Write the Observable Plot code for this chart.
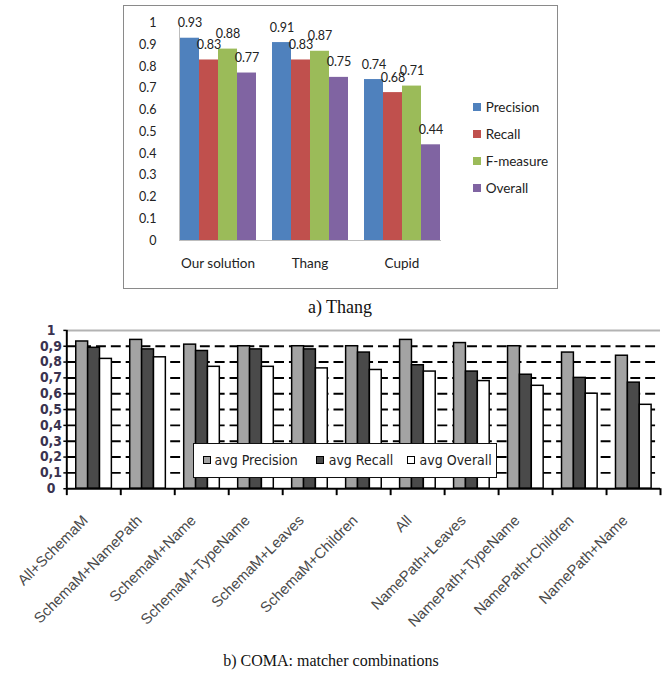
<!DOCTYPE html>
<html>
<head>
<meta charset="utf-8">
<script src="https://cdn.jsdelivr.net/npm/d3@7"></script>
<script src="https://cdn.jsdelivr.net/npm/@observablehq/plot@0.6"></script>
<style>
  html, body { margin: 0; padding: 0; background: #fff; }
  #page { position: relative; width: 663px; height: 675px; overflow: hidden; background: #fff; }
  .abs { position: absolute; }
  .frameA { left: 123px; top: 5px; width: 435px; height: 284px; border: 1px solid #8a8a8a; box-sizing: border-box; pointer-events: none; }
  .legA { font-family: Lato, "Open Sans", sans-serif; font-size: 13.5px; color: #222; }
  .legA .sw { position: absolute; width: 7.5px; height: 7.5px; }
  .legA .lb { position: absolute; line-height: 14px; white-space: nowrap; }
  .cap { font-family: "Liberation Serif", "DejaVu Serif", serif; color: #111; text-align: center; white-space: nowrap; line-height: 1; }
  #bottomWrap { left: 0; top: 320px; width: 663px; height: 340px; overflow: hidden; }
  .legB { left: 193px; top: 443px; width: 304px; height: 35px; border: 1.5px solid #111; background: #fff; box-sizing: border-box; font-family: "DejaVu Sans Condensed", "DejaVu Sans", sans-serif; font-stretch: condensed; font-size: 14px; color: #222; }
  .legB .sw { position: absolute; top: 12px; width: 8px; height: 8px; border: 1px solid #000; box-sizing: border-box; }
  .legB .lb { position: absolute; top: 8px; line-height: 16px; white-space: nowrap; }
</style>
</head>
<body>
<div id="page"></div>
<script>
// ---------- Data: chart a) Thang ----------
const groupsA = ["Our solution", "Thang", "Cupid"];
const metricsA = ["Precision", "Recall", "F-measure", "Overall"];
const precisionA = [0.93, 0.91, 0.74];
const recallA = [0.83, 0.83, 0.68];
const fmeasureA = [0.88, 0.87, 0.71];
const overallA = [0.77, 0.75, 0.44];
const yTicksA = [0, 0.1, 0.2, 0.3, 0.4, 0.5, 0.6, 0.7, 0.8, 0.9, 1];

// ---------- Data: chart b) COMA ----------
const combosB = ["All+SchemaM", "SchemaM+NamePath", "SchemaM+Name", "SchemaM+TypeName", "SchemaM+Leaves",
  "SchemaM+Children", "All", "NamePath+Leaves", "NamePath+TypeName", "NamePath+Children", "NamePath+Name"];
const metricsB = ["avg Precision", "avg Recall", "avg Overall"];
const precisionB = [0.93, 0.94, 0.91, 0.90, 0.90, 0.90, 0.94, 0.92, 0.90, 0.86, 0.84];
const recallB = [0.89, 0.88, 0.87, 0.88, 0.88, 0.86, 0.78, 0.74, 0.72, 0.70, 0.67];
const overallB = [0.82, 0.83, 0.77, 0.77, 0.76, 0.75, 0.74, 0.68, 0.65, 0.60, 0.53];
const yTicksB = [0, 0.1, 0.2, 0.3, 0.4, 0.5, 0.6, 0.7, 0.8, 0.9, 1];
const gridTicksB = [0.1, 0.2, 0.3, 0.4, 0.5, 0.6, 0.7, 0.8, 0.9];

// ---------- Styles ----------
const colorsA = ["#4f81bd", "#c0504d", "#9bbb59", "#8064a2"];
const fillsB = ["#a3a3a3", "#4a4a4a", "#ffffff"];

const page = document.getElementById("page");

// ---------- Chart a ----------
const seriesA = [precisionA, recallA, fmeasureA, overallA];
const tableA = groupsA.flatMap((g, i) => metricsA.map((m, j) => ({group: g, metric: m, value: seriesA[j][i]})));

const plotA = Plot.plot({
  width: 663, height: 290,
  marginLeft: 170, marginRight: 213, marginTop: 22.5, marginBottom: 50,
  style: {fontFamily: "Lato, 'Open Sans', sans-serif", fontSize: "12.5px", color: "#222", background: "transparent", overflow: "visible"},
  fx: {domain: groupsA, paddingInner: 0.16, paddingOuter: 0.1, label: null},
  x: {domain: metricsA, padding: 0, axis: null},
  y: {domain: [0, 1], axis: null},
  color: {domain: metricsA, range: colorsA},
  marks: [
    Plot.frame({anchor: "left", stroke: "#bdbdbd", facet: "super"}),
    Plot.frame({anchor: "bottom", stroke: "#bdbdbd", facet: "super"}),
    Plot.axisY({ticks: yTicksA, tickSize: 0, tickPadding: 23,
      tickFormat: d => (d === 0 || d === 1) ? String(d) : d.toFixed(1), fontSize: 12.5, fill: "#222", label: null}),
    Plot.axisFx({anchor: "bottom", tickSize: 0, tickPadding: 18, fontSize: 13.5, fill: "#222", label: null}),
    Plot.barY(tableA, {fx: "group", x: "metric", y: "value", fill: "metric"}),
    Plot.text(tableA, {fx: "group", x: "metric", y: "value", text: d => d.value.toFixed(2), dy: -15, fontSize: 12.5, fill: "#222"})
  ]
});
plotA.style.position = "absolute";
plotA.style.left = "0px";
plotA.style.top = "0px";
page.appendChild(plotA);

const frameA = document.createElement("div");
frameA.className = "abs frameA";
page.appendChild(frameA);

// legend a
const legA = document.createElement("div");
legA.className = "abs legA";
legA.style.left = "0px"; legA.style.top = "0px";
metricsA.forEach((m, j) => {
  const cy = 107 + j * 27;
  const sw = document.createElement("div");
  sw.className = "sw";
  sw.style.left = "473.3px"; sw.style.top = (cy - 3.75) + "px";
  sw.style.background = colorsA[j];
  const lb = document.createElement("div");
  lb.className = "lb";
  lb.style.left = "485.7px"; lb.style.top = (cy - 7) + "px";
  lb.textContent = m;
  legA.appendChild(sw); legA.appendChild(lb);
});
page.appendChild(legA);

// caption a
const capA = document.createElement("div");
capA.className = "abs cap";
capA.style.left = "240px"; capA.style.width = "200px"; capA.style.top = "298px"; capA.style.fontSize = "18px";
capA.textContent = "a) Thang";
page.appendChild(capA);

// ---------- Chart b ----------
const seriesB = [precisionB, recallB, overallB];
const tableB = combosB.flatMap((c, i) => metricsB.map((m, k) => ({combo: c, index: i, k, metric: m, value: seriesB[k][i]})));
const barStart = 0.175, barWidth = 0.22;
const fmtB = d => Math.abs(d) < 1e-9 ? "0" : Math.abs(d - 1) < 1e-9 ? "1" : d.toFixed(1).replace(".", ",");

const wrapB = document.createElement("div");
wrapB.id = "bottomWrap";
wrapB.className = "abs";
page.appendChild(wrapB);

const plotB = Plot.plot({
  width: 670, height: 340,
  marginLeft: 67, marginRight: 3, marginTop: 10, marginBottom: 170,
  style: {fontFamily: "'Liberation Sans', Arial, sans-serif", fontSize: "13px", color: "#222", background: "transparent", overflow: "visible"},
  x: {domain: [0, combosB.length], axis: null},
  y: {domain: [0, 1], axis: null},
  color: {domain: metricsB, range: fillsB},
  marks: [
    Plot.ruleY(gridTicksB, {stroke: "#000", strokeWidth: 2, strokeDasharray: "10,5"}),
    Plot.ruleY([1], {stroke: "#b3b3b3", strokeWidth: 2}),
    Plot.rectY(tableB, {
      x1: d => d.index + barStart + d.k * barWidth,
      x2: d => d.index + barStart + (d.k + 1) * barWidth,
      y1: 0, y2: "value", fill: "metric", stroke: "#000", strokeWidth: 1.5
    }),
    Plot.ruleY([0], {stroke: "#000", strokeWidth: 2}),
    Plot.ruleX([0], {y1: 0, y2: 1, stroke: "#000", strokeWidth: 2}),
    Plot.axisY({ticks: yTicksB, tickSize: 3, tickPadding: 13, textAnchor: "middle", tickFormat: fmtB,
      fontFamily: "'DejaVu Sans Condensed', 'DejaVu Sans', sans-serif",
      fontWeight: "bold", fontSize: 14, fill: "#3a3350", stroke: "#000", strokeWidth: 1.5, label: null}),
    Plot.axisX({ticks: d3.range(0, combosB.length + 1), tickSize: 7, tickFormat: () => "", stroke: "#000", strokeWidth: 2, label: null}),
    Plot.text(combosB, {x: (d, i) => i + 0.5, frameAnchor: "bottom", text: d => d, rotate: -45,
      textAnchor: "end", lineAnchor: "bottom", dx: -5, dy: 33, fill: "#4a4a4a", fontSize: 15})
  ]
});
wrapB.appendChild(plotB);

// legend b
const legB = document.createElement("div");
legB.className = "abs legB";
const swX = [9, 122, 213], lbX = [20.5, 134.7, 225.6];
metricsB.forEach((m, k) => {
  const sw = document.createElement("div");
  sw.className = "sw";
  sw.style.left = swX[k] + "px";
  sw.style.background = fillsB[k];
  const lb = document.createElement("div");
  lb.className = "lb";
  lb.style.left = lbX[k] + "px";
  lb.textContent = m;
  legB.appendChild(sw); legB.appendChild(lb);
});
page.appendChild(legB);

// caption b
const capB = document.createElement("div");
capB.className = "abs cap";
capB.style.left = "181px"; capB.style.width = "300px"; capB.style.top = "653px"; capB.style.fontSize = "16px";
capB.textContent = "b) COMA: matcher combinations";
page.appendChild(capB);
</script>
</body>
</html>
